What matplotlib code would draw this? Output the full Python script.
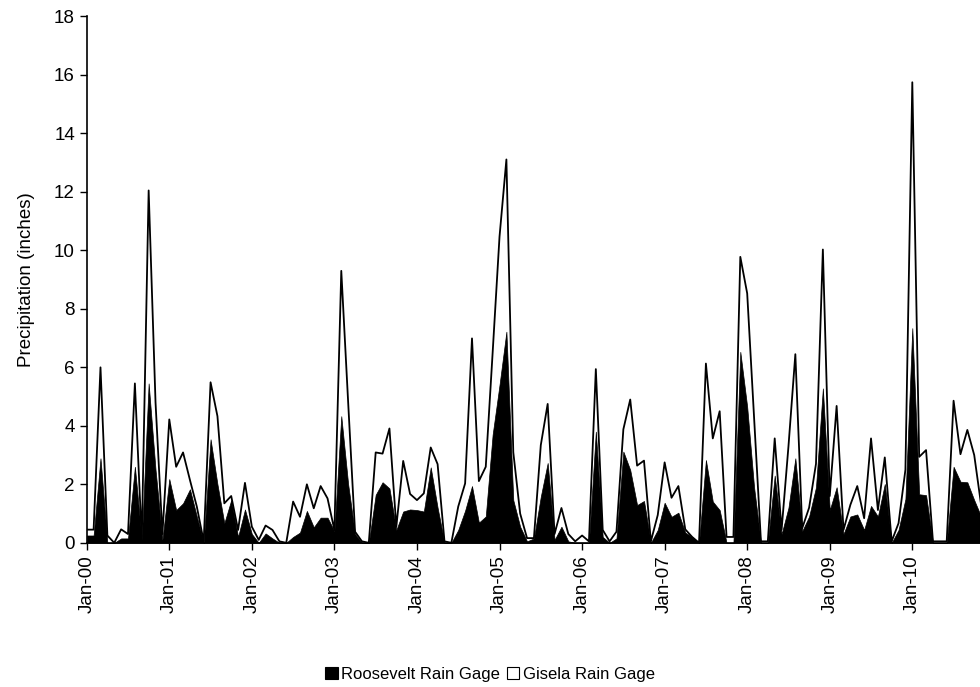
import matplotlib
matplotlib.use("Agg")
import matplotlib.pyplot as plt
from matplotlib.patches import Patch
import numpy as np

plt.rcParams['font.family'] = ['Liberation Sans', 'DejaVu Sans']

years = ["Jan-%02d" % y for y in range(0, 11)]

gisela = [
    0.45, 0.45, 6.0, 0.25, 0.0, 0.46, 0.3, 5.45, 0.1, 12.05, 4.8, 0.3,
    4.22, 2.6, 3.09, 2.15, 1.24, 0.05, 5.49, 4.33, 1.35, 1.6, 0.44, 2.05,
    0.55, 0.1, 0.59, 0.44, 0.05, 0.0, 1.41, 0.89, 2.0, 1.18, 1.94, 1.52,
    0.44, 9.3, 4.8, 0.38, 0.05, 0.0, 3.09, 3.05, 3.91, 0.55, 2.8, 1.67,
    1.46, 1.69, 3.26, 2.69, 0.05, 0.0, 1.24, 2.03, 6.99, 2.11, 2.6, 6.5,
    10.47, 13.11, 3.1, 1.0, 0.16, 0.16, 3.34, 4.75, 0.3, 1.19, 0.3, 0.05,
    0.25, 0.05, 5.94, 0.44, 0.05, 0.38, 3.88, 4.9, 2.64, 2.81, 0.05, 0.95,
    2.75, 1.54, 1.94, 0.46, 0.2, 0.0, 6.13, 3.57, 4.5, 0.2, 0.2, 9.78,
    8.53, 4.3, 0.05, 0.05, 3.57, 0.44, 3.3, 6.45, 0.5, 1.2, 2.7, 10.03,
    1.6, 4.68, 0.44, 1.3, 1.94, 0.84, 3.57, 1.12, 2.92, 0.05, 0.67, 2.5,
    15.75, 2.94, 3.17, 0.05, 0.05, 0.05, 4.86, 3.03, 3.86, 3.0, 1.3, 0.8,
]

roosevelt = [
    0.25, 0.25, 2.89, 0.0, 0.0, 0.15, 0.15, 2.6, 0.1, 5.45, 2.5, 0.1,
    2.18, 1.12, 1.35, 1.83, 0.9, 0.0, 3.54, 2.0, 0.67, 1.46, 0.2, 1.14,
    0.3, 0.0, 0.32, 0.15, 0.0, 0.0, 0.2, 0.35, 1.09, 0.53, 0.86, 0.86,
    0.4, 4.33, 2.0, 0.3, 0.0, 0.0, 1.64, 2.07, 1.86, 0.44, 1.07, 1.14,
    1.12, 1.07, 2.58, 1.2, 0.0, 0.0, 0.44, 1.1, 1.94, 0.69, 0.9, 3.7,
    5.4, 7.22, 1.46, 0.55, 0.05, 0.15, 1.58, 2.73, 0.1, 0.55, 0.05, 0.0,
    0.0, 0.0, 3.8, 0.2, 0.0, 0.15, 3.12, 2.49, 1.29, 1.43, 0.0, 0.44,
    1.37, 0.89, 1.03, 0.35, 0.2, 0.0, 2.83, 1.41, 1.12, 0.0, 0.0, 6.53,
    4.65, 1.9, 0.0, 0.0, 2.3, 0.3, 1.2, 2.89, 0.4, 0.9, 1.9, 5.28,
    1.12, 1.9, 0.3, 0.9, 0.97, 0.44, 1.26, 0.9, 2.01, 0.0, 0.44, 1.5,
    7.34, 1.66, 1.63, 0.0, 0.0, 0.0, 2.6, 2.09, 2.07, 1.46, 0.9, 0.6,
]

x = np.arange(len(gisela))

fig = plt.figure(figsize=(9.8, 6.87), dpi=100)
ax = fig.add_axes([0.0885, 0.2099, 1.0 - 0.0885, 0.976 - 0.2099])

ax.fill_between(x, gisela, 0, facecolor='white', edgecolor='none', zorder=1)
ax.plot(x, gisela, color='black', lw=1.3, zorder=2)
ax.fill_between(x, roosevelt, 0, facecolor='black', edgecolor='black', lw=0.5, zorder=3)

ax.set_xlim(0, 129.84)
ax.set_ylim(0, 18)
ax.set_yticks(np.arange(0, 19, 2))
ax.set_xticks(np.arange(0, 121, 12))
ax.set_xticklabels(years, rotation=90, fontsize=13.5)
ax.tick_params(axis='y', labelsize=13.5, direction='out', length=5, width=1)
ax.tick_params(axis='x', direction='out', length=5, width=1, pad=4)
for s in ['top', 'right']:
    ax.spines[s].set_visible(False)
for s in ['left', 'bottom']:
    ax.spines[s].set_linewidth(1.2)
    ax.spines[s].set_zorder(5)
ax.set_ylabel("Precipitation (inches)", fontsize=13.5, labelpad=14)

handles = [Patch(facecolor='black', edgecolor='black', lw=0.8),
           Patch(facecolor='white', edgecolor='black', lw=0.8)]
fig.legend(handles, ["Roosevelt Rain Gage", "Gisela Rain Gage"],
           loc='center', bbox_to_anchor=(0.5, 1 - 674 / 687), ncol=2,
           frameon=False, fontsize=12, handlelength=0.75, handleheight=0.75,
           handletextpad=0.2, columnspacing=0.4)

fig.savefig("out.png", dpi=100)
